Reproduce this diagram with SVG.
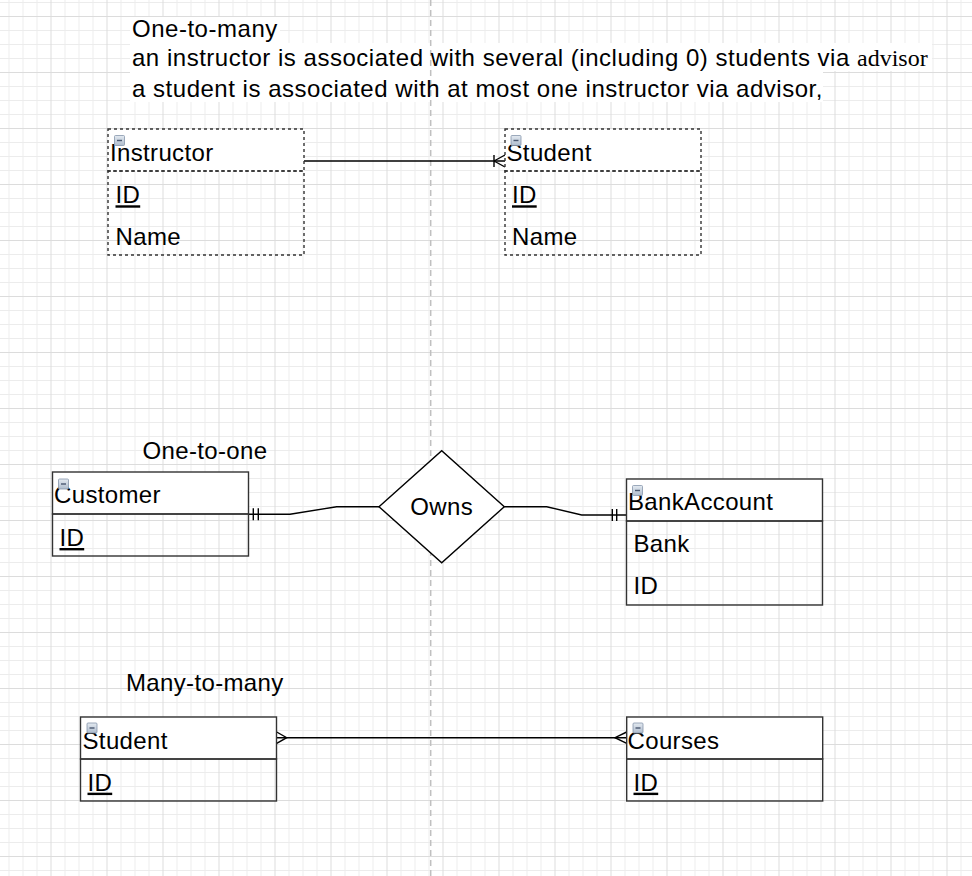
<svg xmlns="http://www.w3.org/2000/svg" width="972" height="876" viewBox="0 0 972 876">
<defs>
<pattern id="grid" x="50.5" y="16" width="56" height="56" patternUnits="userSpaceOnUse">
<rect width="56" height="56" fill="#fff"/>
<g fill="#ececec">
<rect x="14" y="0" width="1" height="56"/><rect x="28" y="0" width="1" height="56"/><rect x="42" y="0" width="1" height="56"/>
<rect x="0" y="14" width="56" height="1"/><rect x="0" y="28" width="56" height="1"/><rect x="0" y="42" width="56" height="1"/>
</g>
<g fill="#dcdcdc"><rect x="0" y="0" width="1" height="56"/><rect x="0" y="0" width="56" height="1"/></g>
</pattern>
<linearGradient id="ig" x1="0" y1="0" x2="0" y2="1"><stop offset="0" stop-color="#e4eaf1"/><stop offset="1" stop-color="#aebccd"/></linearGradient>
<g id="collapse">
<rect x="0" y="0" width="10" height="10" rx="1" fill="url(#ig)" stroke="#8595ab" stroke-width="0.8"/>
<line x1="2.5" y1="5" x2="7.5" y2="5" stroke="#4a5870" stroke-width="1.4"/>
</g>
</defs>
<style>
.t{font-family:"Liberation Sans",Arial,Helvetica,sans-serif;font-size:24px;letter-spacing:0.35px;fill:#000}
.w{letter-spacing:0.52px}
.s{font-family:"Liberation Serif","Times New Roman",serif;letter-spacing:0px}
.u{text-decoration:underline}
.hdr{fill:#fff;stroke:#333;stroke-width:1.4}
.body{fill:none;stroke:#333;stroke-width:1.4}
.dash{stroke-dasharray:3 3}
.edge{fill:none;stroke:#000;stroke-width:1.4}
</style>
<rect width="972" height="876" fill="url(#grid)"/>
<g id="title-bg" fill="#fff">
<rect x="130" y="17" width="150" height="26"/>
<rect x="130" y="43" width="802" height="28"/>
<rect x="130" y="71" width="693" height="31"/>
</g>
<line id="page-break" x1="430.7" y1="0" x2="430.7" y2="876" stroke="#c0c0c0" stroke-width="1.5" stroke-dasharray="6 4"/>
<g id="labels" class="t">
<text class="w" x="132" y="37">One-to-many</text>
<text class="w" x="132" y="65.5">an instructor is associated with several (including 0) students via <tspan class="s">advisor</tspan></text>
<text class="w" x="132" y="97">a student is associated with at most one instructor via advisor,</text>
<text x="142.5" y="458.5">One-to-one</text>
<text x="126" y="691">Many-to-many</text>
</g>
<g id="connectors" class="edge">
<path d="M304 161 H505"/>
<path d="M494 155 V167 M494 161 L505 155 M494 161 L505 167"/>
<path d="M248.7 514.3 H290 L336.7 506.7 H379"/>
<path d="M253.3 508.3 V520.3 M258.3 508.3 V520.3"/>
<path d="M504.3 506.7 H546.7 L581.7 515 H626.5"/>
<path d="M612.3 509 V521 M616.7 509 V521"/>
<path d="M276.7 737.7 H626.7"/>
<path d="M276.7 732 L286.7 737.7 L276.7 743.4"/>
<path d="M626.7 732 L615 737.7 L626.7 743.4"/>
</g>
<g id="instructor">
<rect class="hdr dash" x="108" y="129" width="196" height="42"/>
<rect class="body dash" x="108" y="171" width="196" height="84"/>
<text class="t" x="110" y="160.7">Instructor</text>
<text class="t u" x="115.5" y="203.3">ID</text>
<text class="t" x="115.5" y="245">Name</text>
<use href="#collapse" x="114.5" y="135.5"/>
</g>
<g id="student-top">
<rect class="hdr dash" x="505" y="129" width="196" height="42"/>
<rect class="body dash" x="505" y="171" width="196" height="84"/>
<text class="t" x="506.5" y="160.7">Student</text>
<text class="t u" x="512" y="203.3">ID</text>
<text class="t" x="512" y="245">Name</text>
<use href="#collapse" x="511" y="135.5"/>
</g>
<g id="customer">
<rect class="hdr" x="52.5" y="472" width="196" height="42"/>
<rect class="body" x="52.5" y="514" width="196" height="42"/>
<text class="t" x="54" y="503.3">Customer</text>
<text class="t u" x="59.5" y="546">ID</text>
<use href="#collapse" x="58.5" y="479"/>
</g>
<g id="owns">
<polygon points="379,506.7 441.7,450.7 504.3,506.7 441.7,562.7" fill="#fff" stroke="#000" stroke-width="1.4"/>
<text class="t" x="441.7" y="514.5" text-anchor="middle">Owns</text>
</g>
<g id="bankaccount">
<rect class="hdr" x="626.5" y="479" width="196" height="42"/>
<rect class="body" x="626.5" y="521" width="196" height="84"/>
<text class="t" x="628" y="510">BankAccount</text>
<text class="t" x="633.5" y="552">Bank</text>
<text class="t" x="633.5" y="594">ID</text>
<use href="#collapse" x="632.5" y="485.5"/>
</g>
<g id="student-bottom">
<rect class="hdr" x="80.5" y="717" width="196" height="42"/>
<rect class="body" x="80.5" y="759" width="196" height="42"/>
<text class="t" x="82.5" y="749">Student</text>
<text class="t u" x="87.5" y="790.7">ID</text>
<use href="#collapse" x="87" y="723"/>
</g>
<g id="courses">
<rect class="hdr" x="626.7" y="717" width="196" height="42"/>
<rect class="body" x="626.7" y="759" width="196" height="42"/>
<text class="t" x="627.5" y="749">Courses</text>
<text class="t u" x="633.5" y="790.7">ID</text>
<use href="#collapse" x="633" y="723"/>
</g>
</svg>
